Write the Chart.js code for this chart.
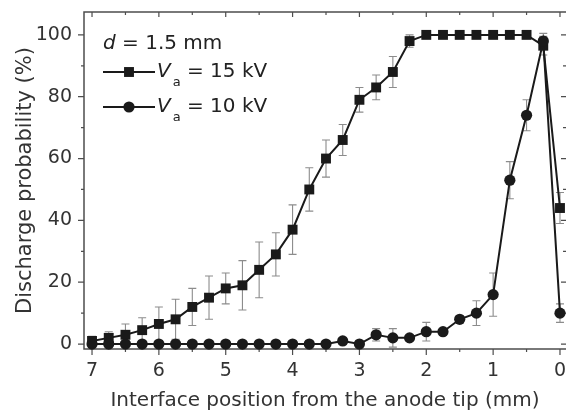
<!DOCTYPE html>
<html lang="en">
<head>
<meta charset="UTF-8">
<title>Discharge probability vs interface position</title>
<script src="https://cdn.jsdelivr.net/npm/chart.js"></script>
<style>
  body { margin: 0; background: #fff; }
  .chart-box { position: relative; width: 566px; height: 415px; }
</style>
</head>
<body>
<div class="chart-box"><canvas id="probChart"></canvas></div>
<script>
// interface position from the anode tip (mm)
const positions = [7, 6.75, 6.5, 6.25, 6, 5.75, 5.5, 5.25, 5, 4.75, 4.5, 4.25, 4, 3.75, 3.5,
                   3.25, 3, 2.75, 2.5, 2.25, 2, 1.75, 1.5, 1.25, 1, 0.75, 0.5, 0.25, 0];

// Va = 15 kV (squares)
const prob15kV = [1, 2, 3, 4.5, 6.5, 8, 12, 15, 18, 19, 24, 29, 37, 50, 60,
                  66, 79, 83, 88, 98, 100, 100, 100, 100, 100, 100, 100, 96.5, 44];
const err15kV  = [1.5, 2, 3.5, 4, 5.5, 6.5, 6, 7, 5, 8, 9, 7, 8, 7, 6,
                  5, 4, 4, 5, 2, 0, 0, 0, 0, 0, 0, 0, 3, 5];

// Va = 10 kV (circles)
const prob10kV = [0, 0, 0, 0, 0, 0, 0, 0, 0, 0, 0, 0, 0, 0, 0,
                  1, 0, 3, 2, 2, 4, 4, 8, 10, 16, 53, 74, 98, 10];
const err10kV  = [0, 0, 0, 0, 0, 0, 0, 0, 0, 0, 0, 0, 0, 0, 0,
                  1, 0, 2, 3, 0, 3, 0, 1, 4, 7, 6, 5, 2.5, 3];

const xTicks = [7, 6, 5, 4, 3, 2, 1, 0];
const xMinorTicks = [6.5, 5.5, 4.5, 3.5, 2.5, 1.5, 0.5];
const yTicks = [0, 20, 40, 60, 80, 100];
const yMinorTicks = [10, 30, 50, 70, 90];

const gapText = ['d', ' = 1.5 mm'];
const voltageLabels = ['15 kV', '10 kV'];

const FONT = "'DejaVu Sans', sans-serif";
const AXIS = '#4d4d4d';

// frame + minor / mirrored ticks
const framePlugin = {
    id: 'frame',
    beforeDatasetsDraw(chart) {
        const ctx = chart.ctx;
        const a = chart.chartArea;
        const xs = chart.scales.x, ys = chart.scales.y;
        ctx.save();
        ctx.strokeStyle = AXIS;
        ctx.lineWidth = 1.5;
        ctx.beginPath();
        ctx.moveTo(a.right, a.top); ctx.lineTo(a.left, a.top);
        ctx.lineTo(a.left, a.bottom); ctx.lineTo(a.right, a.bottom);
        ctx.stroke();

        ctx.lineWidth = 1.2;
        ctx.beginPath();
        xTicks.forEach(v => {
            const px = xs.getPixelForValue(v);
            ctx.moveTo(px, a.bottom); ctx.lineTo(px, a.bottom + 6);
            ctx.moveTo(px, a.top); ctx.lineTo(px, a.top + 5);
        });
        xMinorTicks.forEach(v => {
            const px = xs.getPixelForValue(v);
            ctx.moveTo(px, a.bottom); ctx.lineTo(px, a.bottom + 3);
            ctx.moveTo(px, a.top); ctx.lineTo(px, a.top + 3);
        });
        yTicks.forEach(v => {
            const py = ys.getPixelForValue(v);
            ctx.moveTo(a.left, py); ctx.lineTo(a.left - 6, py);
            ctx.moveTo(a.right, py); ctx.lineTo(a.right - 5, py);
        });
        yMinorTicks.forEach(v => {
            const py = ys.getPixelForValue(v);
            ctx.moveTo(a.left, py); ctx.lineTo(a.left - 3, py);
            ctx.moveTo(a.right, py); ctx.lineTo(a.right - 3, py);
        });
        ctx.stroke();

        // error bars, behind the markers
        ctx.strokeStyle = '#8c8c8c';
        ctx.lineWidth = 1.1;
        chart.data.datasets.forEach(ds => {
            ds.data.forEach((p, i) => {
                const e = ds.errors[i];
                if (!e) return;
                const px = xs.getPixelForValue(p.x);
                const top = ys.getPixelForValue(p.y + e);
                const bot = ys.getPixelForValue(p.y - e);
                ctx.beginPath();
                ctx.moveTo(px, top); ctx.lineTo(px, bot);
                ctx.moveTo(px - 4, top); ctx.lineTo(px + 4, top);
                ctx.moveTo(px - 4, bot); ctx.lineTo(px + 4, bot);
                ctx.stroke();
            });
        });
        ctx.restore();
    }
};

// legend with italic symbols and subscript
const legendPlugin = {
    id: 'gapLegend',
    afterDraw(chart) {
        const ctx = chart.ctx;
        const x0 = 103;
        ctx.save();
        ctx.fillStyle = '#222';
        ctx.textBaseline = 'middle';
        ctx.textAlign = 'left';

        ctx.font = 'italic 20px ' + FONT;
        ctx.fillText(gapText[0], x0, 44);
        let w = ctx.measureText(gapText[0]).width;
        ctx.font = '20px ' + FONT;
        ctx.fillText(gapText[1], x0 + w, 44);

        const rows = [72, 107];
        const sets = [chart.data.datasets[1], chart.data.datasets[0]];
        rows.forEach((y, i) => {
            const ds = sets[i];
            ctx.strokeStyle = '#1a1a1a';
            ctx.lineWidth = 2;
            ctx.beginPath();
            ctx.moveTo(x0, y); ctx.lineTo(x0 + 52, y);
            ctx.stroke();
            ctx.fillStyle = '#1a1a1a';
            Chart.helpers.drawPoint(ctx, {
                pointStyle: ds.pointStyle, radius: ds.pointRadius, borderWidth: 0
            }, x0 + 26, y);

            ctx.fillStyle = '#222';
            let tx = x0 + 54;
            ctx.font = 'italic 20px ' + FONT;
            ctx.fillText('V', tx, y);
            tx += ctx.measureText('V').width + 2;
            ctx.font = '13px ' + FONT;
            ctx.fillText('a', tx, y + 11);
            tx += ctx.measureText('a').width;
            ctx.font = '20px ' + FONT;
            ctx.fillText(' = ' + voltageLabels[i], tx, y);
        });
        ctx.restore();
    }
};

const ctx = document.getElementById('probChart').getContext('2d');
new Chart(ctx, {
    type: 'line',
    data: {
        datasets: [{
            label: 'Va = 10 kV',
            data: positions.map((x, i) => ({ x: x, y: prob10kV[i] })),
            errors: err10kV,
            borderColor: '#1a1a1a',
            backgroundColor: '#1a1a1a',
            borderWidth: 2,
            pointStyle: 'circle',
            pointRadius: 5.6,
            pointBorderWidth: 0,
            order: 0,
            clip: false
        }, {
            label: 'Va = 15 kV',
            data: positions.map((x, i) => ({ x: x, y: prob15kV[i] })),
            errors: err15kV,
            borderColor: '#1a1a1a',
            backgroundColor: '#1a1a1a',
            borderWidth: 2,
            pointStyle: 'rect',
            pointRadius: 7,
            pointBorderWidth: 0,
            order: 1,
            clip: false
        }]
    },
    options: {
        responsive: true,
        maintainAspectRatio: false,
        animation: false,
        layout: { autoPadding: false, padding: { top: 12, right: 0, left: 0, bottom: 0 } },
        plugins: { legend: { display: false }, tooltip: { enabled: false } },
        scales: {
            x: {
                type: 'linear',
                reverse: true,
                min: -0.09,
                max: 7.12,
                afterBuildTicks: s => { s.ticks = xTicks.map(v => ({ value: v })); },
                afterFit: s => { s.height = 66; s.paddingLeft = 0; s.paddingRight = 0; },
                grid: { display: false, drawTicks: false },
                border: { display: false },
                ticks: { color: '#333', padding: 11, font: { family: FONT, size: 19 } },
                title: {
                    display: true,
                    text: 'Interface position from the anode tip (mm)',
                    color: '#333',
                    font: { family: FONT, size: 20 },
                    padding: { top: 0, bottom: 2 }
                }
            },
            y: {
                min: -1.6,
                max: 107.4,
                afterBuildTicks: s => { s.ticks = yTicks.map(v => ({ value: v })); },
                afterFit: s => { s.width = 84; s.paddingTop = 0; s.paddingBottom = 0; },
                grid: { display: false, drawTicks: false },
                border: { display: false },
                ticks: { color: '#333', padding: 12, font: { family: FONT, size: 19 } },
                title: {
                    display: true,
                    text: 'Discharge probability (%)',
                    color: '#333',
                    font: { family: FONT, size: 21 },
                    padding: { top: 13, bottom: 0 }
                }
            }
        }
    },
    plugins: [framePlugin, legendPlugin]
});
</script>
</body>
</html>
